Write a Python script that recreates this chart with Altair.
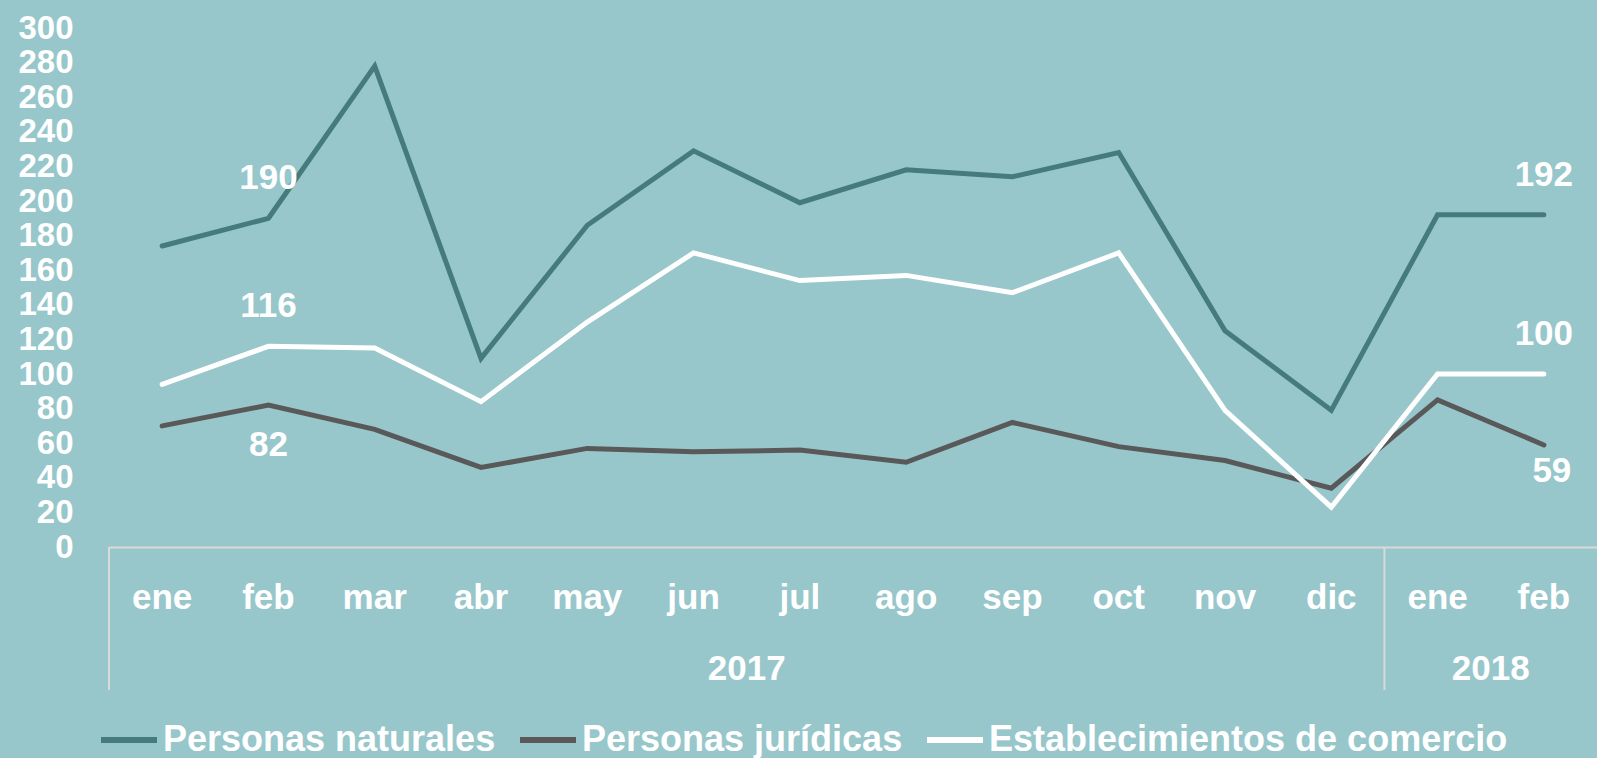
import altair as alt
import pandas as pd

months = ["ene", "feb", "mar", "abr", "may", "jun", "jul", "ago", "sep", "oct", "nov", "dic", "ene", "feb"]
years = ["2017"] * 12 + ["2018"] * 2
series_names = ["Personas naturales", "Personas jurídicas", "Establecimientos de comercio"]
series_colors = ["#457B7B", "#595959", "#FFFFFF"]

personas_naturales = [174, 190, 278, 109, 186, 229, 199, 218, 214, 228, 125, 79, 192, 192]
personas_juridicas = [70, 82, 68, 46, 57, 55, 56, 49, 72, 58, 50, 34, 85, 59]
establecimientos = [94, 116, 115, 84, 130, 170, 154, 157, 147, 170, 79, 23, 100, 100]
y_ticks = [0, 20, 40, 60, 80, 100, 120, 140, 160, 180, 200, 220, 240, 260, 280, 300]

keys = [f"{y}-{m}" for y, m in zip(years, months)]

rows = []
for name, vals in zip(series_names, [personas_naturales, personas_juridicas, establecimientos]):
    for i, (k, v) in enumerate(zip(keys, vals)):
        rows.append({"key": k, "idx": i, "serie": name, "valor": v})
df = pd.DataFrame(rows)

# labelled points (feb 2017 and feb 2018)
above = df[(df["key"].isin(["2017-feb", "2018-feb"])) & (df["serie"] != "Personas jurídicas")]
below1 = df[(df["key"] == "2017-feb") & (df["serie"] == "Personas jurídicas")]
below2 = df[(df["key"] == "2018-feb") & (df["serie"] == "Personas jurídicas")]

year_list = ["2017", "2018"]
year_start = ["2017-ene", "2018-ene"]
year_center = ["2017-jul", "2018-feb"]
years_df = pd.DataFrame({"year": year_list, "start": year_start, "center": year_center})

FONT = "Liberation Sans"
W, H = 1488, 519
xscale = alt.Scale(type="band", domain=keys, paddingInner=0, paddingOuter=0)
yscale = alt.Scale(domain=[0, 300], nice=False, zero=True)

xaxis = alt.Axis(title=None, labelExpr="split(datum.value, '-')[1]", labelAngle=0,
                 labelAlign="center", bandPosition=0.5,
                 ticks=False, tickSize=0, labelPadding=61, labelBaseline="alphabetic",
                 labelFont=FONT, labelFontWeight="bold", labelFontSize=35,
                 labelColor="#FFFFFF", domainColor="#D9D9D9", domainWidth=2,
                 labelOverlap=False, grid=False)
yaxis = alt.Axis(title=None, values=y_ticks, ticks=False, tickSize=0,
                 domain=False, grid=False, labelPadding=36, labelFont=FONT,
                 labelOverlap=False, labelBound=False, labelSeparation=0,
                 labelFontWeight="bold", labelFontSize=33, labelColor="#FFFFFF")

base = alt.Chart(df)

lines = base.mark_line(strokeWidth=5, strokeCap="round", strokeJoin="miter").encode(
    x=alt.X("key:N", scale=xscale, bandPosition=0.5, axis=xaxis),
    y=alt.Y("valor:Q", scale=yscale, axis=yaxis),
    color=alt.Color("serie:N", scale=alt.Scale(domain=series_names, range=series_colors),
                    sort=series_names,
                    legend=alt.Legend(title=None, orient="none", direction="horizontal",
                                      legendX=-11, legendY=681, symbolType="stroke",
                                      symbolSize=3136, symbolStrokeWidth=6, labelFont=FONT,
                                      labelFontWeight="bold", labelFontSize=36,
                                      labelColor="#FFFFFF", labelLimit=800, labelOffset=3,
                                      columnPadding=12, padding=0)),
    order=alt.Order("idx:Q"),
    detail="serie:N",
)

def labels(data, dy, dx=0):
    return alt.Chart(data).mark_text(font=FONT, fontWeight="bold", fontSize=35, color="#FFFFFF",
                                     baseline="middle", align="center", dy=dy, dx=dx).encode(
        x=alt.X("key:N", scale=xscale, bandPosition=0.5, axis=xaxis),
        y=alt.Y("valor:Q", scale=yscale, axis=yaxis),
        text="valor:Q",
    )

rules = alt.Chart(years_df).mark_rule(color="#D9D9D9", strokeWidth=2).encode(
    x=alt.X("start:N", scale=xscale, bandPosition=0, axis=xaxis),
    y=alt.value(H),
    y2=alt.value(H + 143),
)

year_text = alt.Chart(years_df).mark_text(font=FONT, fontWeight="bold", fontSize=35, color="#FFFFFF",
                                          baseline="alphabetic", align="center").encode(
    x=alt.X("center:N", scale=xscale, bandPosition=0, axis=xaxis),
    y=alt.value(H + 133),
    text="year:N",
)

chart = alt.layer(
    lines, rules, year_text,
    labels(above, -40), labels(below1, 40), labels(below2, 26, 8),
).properties(
    width=W, height=H,
    background="#97C7CB",
    padding={"left": 109, "top": 28, "right": 0, "bottom": 211},
    autosize=alt.AutoSizeParams(type="none"),
).configure_view(stroke=None)

chart.save("out.html", embed_options={"renderer": "svg", "actions": False})
